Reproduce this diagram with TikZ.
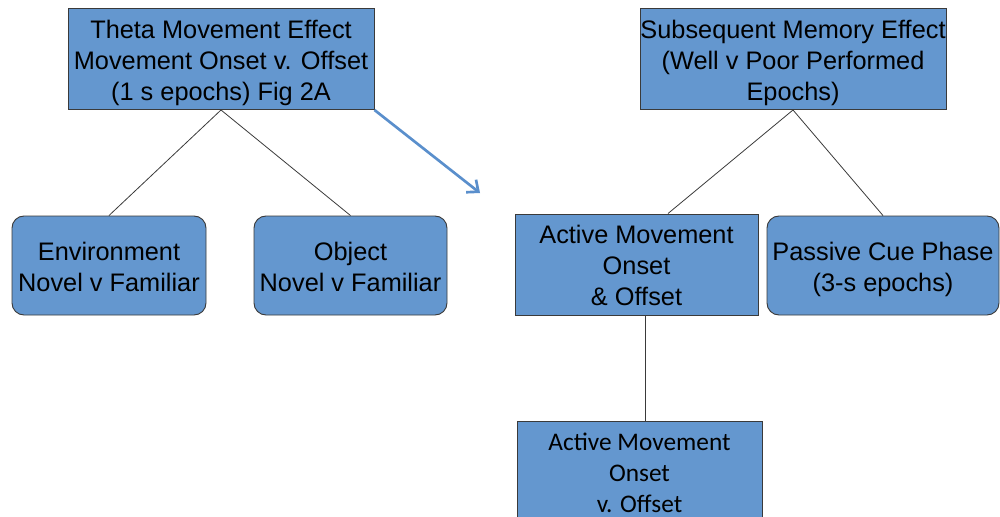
\documentclass[tikz,border=0pt]{standalone}
\usepackage{fontspec}
\setmainfont{Liberation Sans}
\newfontfamily\carlitofont{Carlito}
\usetikzlibrary{arrows.meta}
\definecolor{boxfill}{HTML}{6497CF}
\definecolor{boxline}{HTML}{3A3A3A}
\definecolor{arrowblue}{HTML}{5A8FCC}
\newcommand{\boxlines}[2][22.3pt]{\begin{tabular}{@{}c@{}}\rule{0pt}{#1}#2\end{tabular}}
\tikzset{
  box/.style={draw=boxline, line width=0.7pt, fill=boxfill, inner sep=0pt,
    font=\fontsize{19}{23.25}\selectfont, text=black},
  rbox/.style={box, rounded corners=9pt},
  conn/.style={draw=boxline, line width=0.6pt},
  bluearrow/.style={draw=arrowblue, line width=2pt, -{Straight Barb[length=7pt,width=12pt,line width=2pt]}}
}
\begin{document}
\begin{tikzpicture}[x=0.75pt,y=-0.75pt]
\useasboundingbox (0,0) rectangle (1000,517);
\clip (0,0) rectangle (1000,517);
\node[box, minimum width=229.5pt, minimum height=73.5pt] (theta) at (221,59)
  {\boxlines{Theta Movement Effect\\Movement Onset v. Offset\\(1 s epochs) Fig 2A}};
\node[box, minimum width=229.5pt, minimum height=73.5pt] (sme) at (793,59)
  {\boxlines{Subsequent Memory Effect\\(Well v Poor Performed\\Epochs)}};
\node[rbox, minimum width=145.5pt, minimum height=74.25pt] (env) at (109,265.5)
  {\boxlines{Environment\\Novel v Familiar}};
\node[rbox, minimum width=144.75pt, minimum height=74.25pt] (obj) at (350.5,265.5)
  {\boxlines{Object\\Novel v Familiar}};
\node[box, minimum width=182.25pt, minimum height=75.75pt] (active) at (636.5,264.5)
  {\boxlines{Active Movement\\Onset\\\& Offset}};
\node[rbox, minimum width=174pt, minimum height=74.25pt] (passive) at (883,265.5)
  {\boxlines{Passive Cue Phase\\(3-s epochs)}};
\node[box, minimum width=183.75pt, minimum height=78pt, font=\carlitofont\fontsize{19}{23.25}\selectfont] (bot) at (639.5,473)
  {\boxlines[19pt]{Active Movement\\Onset\\v. Offset}};
\coordinate (ax) at (668,0);
\coordinate (vx) at (645,0);
\coordinate (arrowend) at (480,193);
\draw[conn] (theta.south) -- (env.north);
\draw[conn] (theta.south) -- (obj.north);
\draw[conn] (sme.south) -- (active.north -| ax);
\draw[conn] (sme.south) -- (passive.north);
\draw[conn] (active.south -| vx) -- (bot.north -| vx);
\draw[bluearrow] (theta.south east) -- (arrowend);
\end{tikzpicture}
\end{document}
